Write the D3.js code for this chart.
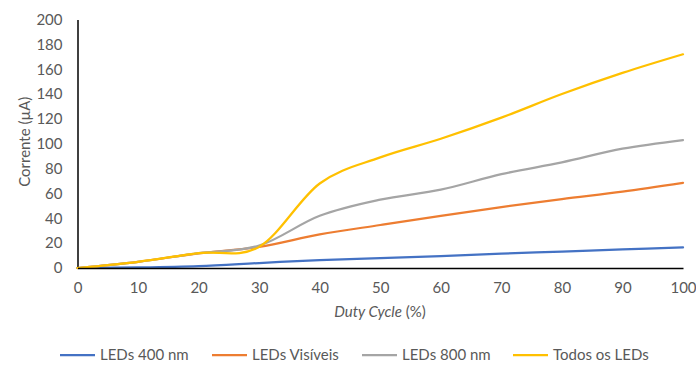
<!DOCTYPE html>
<html>
<head>
  <meta charset="utf-8">
  <script src="https://d3js.org/d3.v7.min.js"></script>
  <style>
    body { margin: 0; background: #fff; font-family: Lato, sans-serif; }
  </style>
</head>
<body>
  <div id="my_dataviz"></div>
  <script>
    // data
    var duty = [0, 10, 20, 30, 40, 50, 60, 70, 80, 90, 100];
    var leds400 = [0, 0.5, 1.6, 4, 6.4, 7.9, 9.6, 11.5, 13.2, 15, 16.6];
    var ledsVis = [0, 5, 11.8, 17, 27, 34.6, 42, 49, 55.5, 61.5, 68.6];
    var leds800 = [0, 5, 12, 18, 42, 55, 63, 75.5, 85, 96, 103];
    var todos = [0, 5, 12, 17, 68, 89, 104, 121, 140, 157, 172];
    var seriesNames = ["LEDs 400 nm", "LEDs Visíveis", "LEDs 800 nm", "Todos os LEDs"];
    var seriesValues = [leds400, ledsVis, leds800, todos];
    var colors = ["#4472C4", "#ED7D31", "#A5A5A5", "#FFC000"];
    var yTicks = [0, 20, 40, 60, 80, 100, 120, 140, 160, 180, 200];
    var xTicks = [0, 10, 20, 30, 40, 50, 60, 70, 80, 90, 100];

    var width = 696, height = 365;
    var fs = "15px";
    var svg = d3.select("#my_dataviz")
      .append("svg")
      .attr("width", width)
      .attr("height", height)
      .style("font-family", "Lato, sans-serif");

    var x = d3.scaleLinear().domain([0, 100]).range([77.5, 683]);
    var y = d3.scaleLinear().domain([0, 200]).range([268, 19.5]);

    // Y axis
    var yAxis = svg.append("g")
      .attr("transform", "translate(" + x(0) + ",0)")
      .call(d3.axisLeft(y).tickValues(yTicks).tickSize(0).tickPadding(15));
    yAxis.select(".domain").attr("stroke", "#000").attr("stroke-width", 1.5);
    yAxis.selectAll("text").attr("fill", "#595959").style("font-size", fs)
      .style("font-family", "Lato, sans-serif");

    svg.append("text")
      .attr("transform", "rotate(-90)")
      .attr("x", -y(100) + 2)
      .attr("y", 30)
      .style("text-anchor", "middle")
      .attr("fill", "#595959")
      .style("font-size", fs)
      .text("Corrente (µA)");

    // lines
    var line = d3.line()
      .x(function (d, i) { return x(duty[i]); })
      .y(function (d) { return y(d); })
      .curve(d3.curveCardinal.tension(0));

    svg.append("g")
      .selectAll("path")
      .data(seriesValues)
      .enter()
      .append("path")
      .attr("d", line)
      .attr("fill", "none")
      .attr("stroke", function (d, i) { return colors[i]; })
      .attr("stroke-width", 2.25)
      .attr("stroke-linecap", "round");

    // X axis
    var xAxis = svg.append("g")
      .attr("transform", "translate(0," + y(0) + ")")
      .call(d3.axisBottom(x).tickValues(xTicks).tickSize(0).tickPadding(14));
    xAxis.select(".domain").attr("stroke", "#000").attr("stroke-width", 1.5);
    xAxis.selectAll("text").attr("fill", "#595959").style("font-size", fs)
      .style("font-family", "Lato, sans-serif");

    var xt = svg.append("text")
      .attr("x", 380)
      .attr("y", 317)
      .style("text-anchor", "middle")
      .attr("fill", "#595959")
      .style("font-size", fs);
    xt.append("tspan").style("font-style", "italic").text("Duty Cycle");
    xt.append("tspan").text(" (%)");

    // legend
    var legendX = [60, 212, 362, 513];
    var legend = svg.append("g")
      .selectAll("g")
      .data(seriesNames)
      .enter()
      .append("g")
      .attr("transform", function (d, i) { return "translate(" + legendX[i] + ",355)"; });
    legend.append("line")
      .attr("x1", 0).attr("x2", 35)
      .attr("stroke", function (d, i) { return colors[i]; })
      .attr("stroke-width", 2.25);
    legend.append("text")
      .attr("x", 40)
      .attr("dy", "0.35em")
      .attr("fill", "#595959")
      .style("font-size", fs)
      .text(function (d) { return d; });
  </script>
</body>
</html>
